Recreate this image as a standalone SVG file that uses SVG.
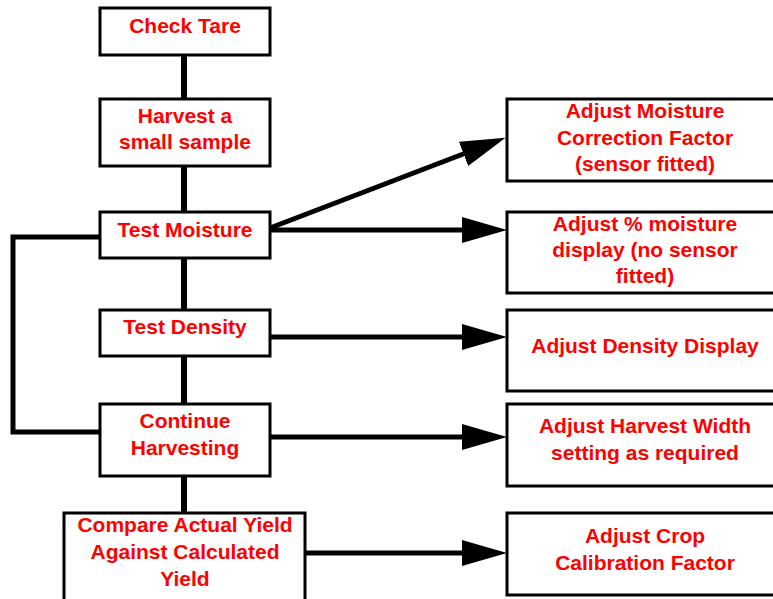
<svg xmlns="http://www.w3.org/2000/svg" width="773" height="599" viewBox="0 0 773 599">
<style>
.box{fill:#fff;stroke:#000;stroke-width:3}
.t{font-family:"Liberation Sans",Arial,sans-serif;font-weight:bold;font-size:21px;fill:#ff0000;text-anchor:middle}
.c{fill:none;stroke:#000;stroke-width:6}
.a{fill:none;stroke:#000;stroke-width:5}
</style>
<defs>
<marker id="ah" markerUnits="userSpaceOnUse" markerWidth="46" markerHeight="26" refX="8" refY="13" orient="auto" viewBox="0 0 46 26">
<path d="M0,0 L45,13 L0,26 z" fill="#000"/>
</marker>
</defs>
<g id="connectors">
<path class="c" d="M184,55 V99 M184,166 V212 M184,258 V310 M184,356 V404 M184,476 V513"/>
<path class="a" d="M100,237 H13 V432 H100"/>
<line class="a" x1="270" y1="228" x2="471" y2="151" marker-end="url(#ah)"/>
<line class="a" x1="270" y1="230" x2="470" y2="230" marker-end="url(#ah)"/>
<line class="a" x1="270" y1="337" x2="470" y2="337" marker-end="url(#ah)"/>
<line class="a" x1="270" y1="437" x2="470" y2="437" marker-end="url(#ah)"/>
<line class="a" x1="305" y1="553" x2="470" y2="553" marker-end="url(#ah)"/>
</g>
<g id="check-tare"><rect class="box" x="100" y="8" width="170" height="47"/><text class="t" x="185" y="33">Check Tare</text></g>
<g id="harvest-sample"><rect class="box" x="100" y="99" width="170" height="67"/><text class="t" x="185" y="123">Harvest a</text><text class="t" x="185" y="149">small sample</text></g>
<g id="test-moisture"><rect class="box" x="100" y="212" width="170" height="46"/><text class="t" x="185" y="237">Test Moisture</text></g>
<g id="test-density"><rect class="box" x="100" y="310" width="170" height="46"/><text class="t" x="185" y="334">Test Density</text></g>
<g id="continue-harvesting"><rect class="box" x="100" y="404" width="170" height="72"/><text class="t" x="185" y="428">Continue</text><text class="t" x="185" y="455">Harvesting</text></g>
<g id="compare-yield"><rect class="box" x="64" y="513" width="241" height="100"/><text class="t" x="185" y="532">Compare Actual Yield</text><text class="t" x="185" y="559">Against Calculated</text><text class="t" x="185" y="586">Yield</text></g>
<g id="adjust-moisture-cf"><rect class="box" x="507" y="99" width="280" height="82"/><text class="t" x="645" y="118">Adjust Moisture</text><text class="t" x="645" y="145">Correction Factor</text><text class="t" x="645" y="171">(sensor fitted)</text></g>
<g id="adjust-moisture-display"><rect class="box" x="507" y="212" width="280" height="81"/><text class="t" x="645" y="231">Adjust % moisture</text><text class="t" x="645" y="257">display (no sensor</text><text class="t" x="645" y="283">fitted)</text></g>
<g id="adjust-density"><rect class="box" x="507" y="310" width="280" height="81"/><text class="t" x="645" y="353">Adjust Density Display</text></g>
<g id="adjust-width"><rect class="box" x="507" y="404" width="280" height="82"/><text class="t" x="645" y="433">Adjust Harvest Width</text><text class="t" x="645" y="460">setting as required</text></g>
<g id="adjust-crop"><rect class="box" x="507" y="513" width="280" height="82"/><text class="t" x="645" y="543">Adjust Crop</text><text class="t" x="645" y="570">Calibration Factor</text></g>
</svg>
